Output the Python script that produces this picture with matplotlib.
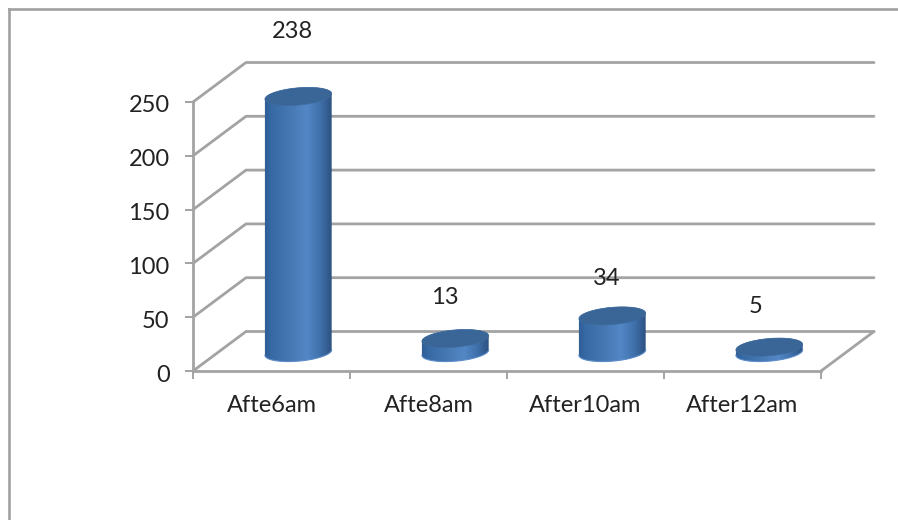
import numpy as np
import matplotlib
matplotlib.use("Agg")
import matplotlib.pyplot as plt
from matplotlib.lines import Line2D
from matplotlib.patches import PathPatch, Polygon
from matplotlib.path import Path
from matplotlib.colors import LinearSegmentedColormap
from matplotlib.transforms import ScaledTranslation

categories = ["Afte6am", "Afte8am", "After10am", "After12am"]
values = [238, 13, 34, 5]
value_ticks = [0, 50, 100, 150, 200, 250]

WIDTH, HEIGHT = 898, 520
GREY = "#a3a3a3"
TEXT = "#222222"
plt.rcParams["font.family"] = ["Lato", "DejaVu Sans"]

fig = plt.figure(figsize=(WIDTH / 100, HEIGHT / 100), dpi=100, facecolor="white")

# Front plane of the pseudo-3D plot
left, right, top, bottom = 193, 821, 102, 371
ax = fig.add_axes([left / WIDTH, 1 - bottom / HEIGHT,
                   (right - left) / WIDTH, (bottom - top) / HEIGHT])
ax.set_xlim(0, len(categories))
ax.set_ylim(0, value_ticks[-1])
ax.patch.set_alpha(0)

# Conversion from pixels to data units
px_x = len(categories) / (right - left)
px_y = value_ticks[-1] / (bottom - top)

# Depth of the floor and side wall
depth_x, depth_y = 53 * px_x, 39.5 * px_y

# Outer chart frame, open at the bottom and on the right
frame_kw = dict(color="#a0a0a0", lw=1.9, transform=fig.transFigure)
fig.add_artist(Line2D([8.5 / WIDTH, 8.5 / WIDTH], [0, 1 - 9 / HEIGHT], **frame_kw))
fig.add_artist(Line2D([8.5 / WIDTH, 1], [1 - 9 / HEIGHT, 1 - 9 / HEIGHT], **frame_kw))

# Gridlines across the back wall and slanted up the side wall
grid_kw = dict(color=GREY, lw=2.0, clip_on=False, zorder=1, solid_capstyle="round")
for tick in value_ticks:
    ax.plot([0, depth_x, len(categories) + depth_x],
            [tick, tick + depth_y, tick + depth_y], **grid_kw)
ax.plot([len(categories), len(categories) + depth_x], [0, depth_y], **grid_kw)

# Cylinders with a horizontal shading across the body
shade = LinearSegmentedColormap.from_list("cyl", [
    (0.00, "#2f5c94"), (0.12, "#386ba6"), (0.45, "#4a7cb8"),
    (0.62, "#5387c6"), (0.82, "#3f70aa"), (1.00, "#2b4f7e")])
gradient = np.linspace(0, 1, 256)[None, :]

semi_a, semi_b, tilt = 33.5, 8.6, np.radians(5)
base_dy = 18.5 * px_y
offset_x = 26.8 * px_x


def ellipse(cx, cy, t):
    """Tilted ellipse outline, sized in pixels and returned in data units."""
    ex = semi_a * np.cos(t) * np.cos(tilt) - semi_b * np.sin(t) * np.sin(tilt)
    ey = semi_a * np.cos(t) * np.sin(tilt) + semi_b * np.sin(t) * np.cos(tilt)
    return np.column_stack([cx + ex * px_x, cy + ey * px_y])


for i, value in enumerate(values):
    cx = i + 0.5 + offset_x
    y0, y1 = base_dy, base_dy + value
    # Parameter value of the widest point of the tilted ellipse
    t_right = np.arctan2(-semi_b * np.sin(tilt), semi_a * np.cos(tilt))
    lower = ellipse(cx, y0, np.linspace(t_right - np.pi, t_right, 60))
    upper = ellipse(cx, y1, np.linspace(t_right, t_right + np.pi, 60))
    body = np.vstack([lower, upper])

    half = semi_a * 1.02 * px_x
    img = ax.imshow(gradient, cmap=shade, aspect="auto", zorder=3,
                    extent=[cx - half, cx + half, y0 - 12 * px_y, y1 + 12 * px_y])
    img.set_clip_box(fig.bbox)
    img.set_clip_path(PathPatch(Path(np.vstack([body, body[:1]])), transform=ax.transData))
    ax.plot(lower[:, 0], lower[:, 1], color="#5b8bc8", lw=0.8, zorder=4, clip_on=False)
    cap = ellipse(cx, y1, np.linspace(0, 2 * np.pi, 120))
    ax.add_patch(Polygon(cap, closed=True, facecolor="#3a6597", edgecolor="#3f6c9f",
                         lw=0.5, zorder=5, clip_on=False))

ax.set_xlim(0, len(categories))
ax.set_ylim(0, value_ticks[-1])

# Value labels sitting above the columns
label_shift = [(-6, 65), (-10, 41), (-6, 37), (-14, 41)]
for i, (value, (sx, sy)) in enumerate(zip(values, label_shift)):
    ax.text(i + 0.5 + offset_x + sx * px_x, base_dy + value + sy * px_y, str(value),
            ha="center", va="center", fontsize=17, color=TEXT, zorder=6, clip_on=False)

# Axes, ticks and labels
for side in ("top", "right"):
    ax.spines[side].set_visible(False)
for side in ("left", "bottom"):
    ax.spines[side].set_color(GREY)
    ax.spines[side].set_linewidth(2.0)
    ax.spines[side].set_zorder(2)

ax.set_yticks(value_ticks)
ax.set_xticks(range(len(categories) + 1))
ax.set_xticklabels([])
ax.set_xticks(np.arange(len(categories)) + 0.5, minor=True)
ax.set_xticklabels(categories, minor=True)
ax.tick_params(axis="both", which="major", length=5.8, width=1.4, color=GREY,
               labelsize=17, labelcolor=TEXT, pad=11)
ax.tick_params(axis="x", which="minor", length=0, labelsize=17,
               labelcolor=TEXT, pad=17)

# Value axis labels sit slightly below their ticks
for label in ax.get_yticklabels():
    label.set_transform(label.get_transform() + ScaledTranslation(0, -2 / 100, fig.dpi_scale_trans))

fig.savefig("out.png", dpi=100)
